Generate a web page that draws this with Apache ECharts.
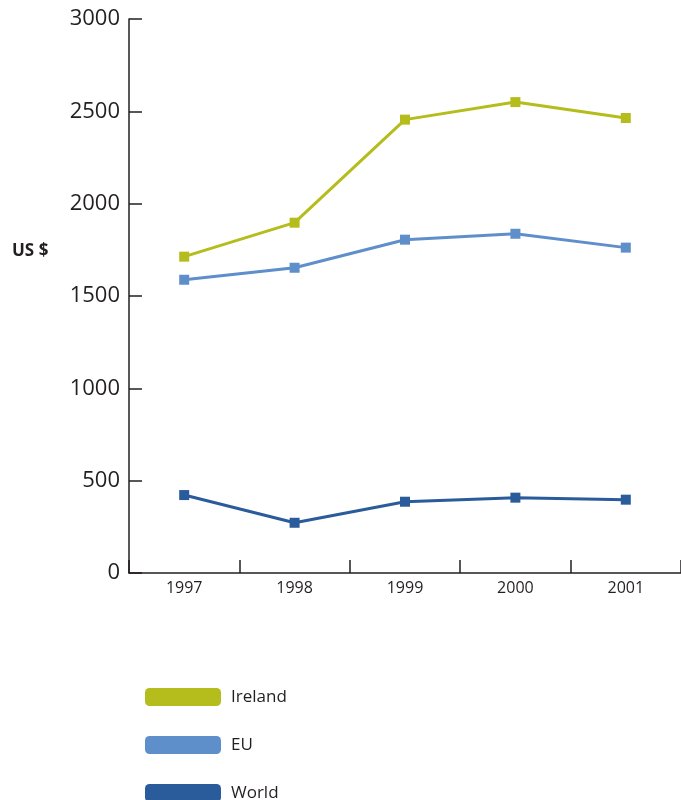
<!DOCTYPE html>
<html>
<head>
<meta charset="utf-8">
<script src="https://cdn.jsdelivr.net/npm/echarts@6/dist/echarts.min.js"></script>
<style>
  html, body { margin: 0; padding: 0; background: #fff; }
  #chart { width: 681px; height: 800px; }
</style>
</head>
<body>
<div id="chart"></div>
<script>
// 数据
const years = ['1997', '1998', '1999', '2000', '2001']
const ireland = [1713, 1897, 2455, 2550, 2464]
const eu = [1588, 1653, 1805, 1837, 1762]
const world = [422, 272, 386, 408, 397]
const yTicks = [0, 500, 1000, 1500, 2000, 2500, 3000]

const textColor = '#231f20'
const font = '"Open Sans", "DejaVu Sans", sans-serif'

const chart = echarts.init(document.getElementById('chart'))

function lineSeries (name, data, color) {
  return {
    name: name,
    type: 'line',
    data: data,
    symbol: 'rect',
    symbolSize: 10,
    lineStyle: { color: color, width: 3 },
    itemStyle: { color: color },
    emphasis: { disabled: true }
  }
}

const option = {
  animation: false,
  textStyle: { fontFamily: font },
  grid: { left: 129, right: 0, top: 19, bottom: 227 },
  xAxis: {
    type: 'category',
    data: years,
    boundaryGap: true,
    axisLine: { lineStyle: { color: textColor, width: 1.5 } },
    axisTick: { show: true, inside: true, length: 13, lineStyle: { color: textColor, width: 1.5 } },
    axisLabel: { color: textColor, fontSize: 16, margin: 7, fontFamily: font }
  },
  yAxis: {
    type: 'value',
    min: yTicks[0],
    max: yTicks[yTicks.length - 1],
    interval: 500,
    axisLine: { show: true, lineStyle: { color: textColor, width: 1.5 } },
    axisTick: { show: true, inside: true, length: 13, lineStyle: { color: textColor, width: 1.5 } },
    axisLabel: {
      color: textColor,
      fontSize: 22,
      margin: 9,
      fontFamily: font,
      formatter: (v) => String(v)
    },
    splitLine: { show: false }
  },
  legend: {
    orient: 'vertical',
    left: 145,
    top: 688,
    height: 140,
    padding: 0,
    icon: 'roundRect',
    itemWidth: 76,
    itemHeight: 18,
    itemGap: 30,
    textStyle: { color: textColor, fontSize: 17, fontFamily: font, padding: [0, 0, 0, 5] },
    data: ['Ireland', 'EU', 'World']
  },
  graphic: [
    {
      type: 'text',
      left: 12,
      top: 243,
      style: { text: 'US $', fill: textColor, font: 'bold 17px ' + font }
    }
  ],
  series: [
    lineSeries('Ireland', ireland, '#b5bd1c'),
    lineSeries('EU', eu, '#5f8fca'),
    lineSeries('World', world, '#2a5b9a')
  ]
}

chart.setOption(option)
</script>
</body>
</html>
